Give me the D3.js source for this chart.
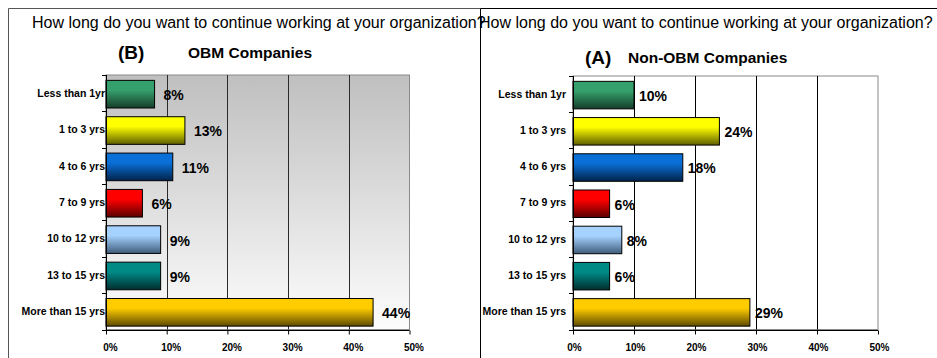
<!DOCTYPE html>
<html>
<head>
<meta charset="utf-8">
<script src="https://cdn.jsdelivr.net/npm/d3@7"></script>
<style>
  html, body { margin: 0; padding: 0; background: #fff; }
  svg { display: block; font-family: Arial, "Liberation Sans", sans-serif; }
</style>
</head>
<body>
<svg id="chart" width="937" height="358"></svg>
<script>
// Survey answers: tenure the respondent intends to stay
const categories = ["Less than 1yr", "1 to 3 yrs", "4 to 6 yrs", "7 to 9 yrs",
                    "10 to 12 yrs", "13 to 15 yrs", "More than 15 yrs"];
const obmValues    = [8, 13, 11, 6, 9, 9, 44];   // (B) OBM companies, %
const nonObmValues = [10, 24, 18, 6, 8, 6, 29];  // (A) Non-OBM companies, %
const tickValues   = [0, 10, 20, 30, 40, 50];
const question     = "How long do you want to continue working at your organization?";

// Bar fill per category: [top colour, bottom colour]
const barColors = [
  ["#35a06c", "#163d2a"],
  ["#ffff00", "#5e5e00"],
  ["#0a6fd6", "#00234a"],
  ["#ff0000", "#5a0000"],
  ["#a6d2ff", "#3f5c7a"],
  ["#008a86", "#002e2e"],
  ["#ffcc00", "#5e4a00"]
];

const svg = d3.select("#chart");
const defs = svg.append("defs");

barColors.forEach((c, i) => {
  const g = defs.append("linearGradient").attr("id", "bar" + i)
    .attr("x1", 0).attr("y1", 0).attr("x2", 0).attr("y2", 1);
  g.append("stop").attr("offset", "0%").attr("stop-color", c[0]);
  g.append("stop").attr("offset", "35%").attr("stop-color", c[0]);
  g.append("stop").attr("offset", "100%").attr("stop-color", c[1]);
});

const bgGrad = defs.append("linearGradient").attr("id", "plotBg")
  .attr("x1", 0).attr("y1", 0).attr("x2", 0).attr("y2", 1);
bgGrad.append("stop").attr("offset", "0%").attr("stop-color", "#bfbfbf");
bgGrad.append("stop").attr("offset", "100%").attr("stop-color", "#fdfdfd");

const panels = [
  {
    values: obmValues, letter: "(B)", name: "OBM Companies",
    frameX: 8.5, titleX: 32, letterX: 118, nameX: 188, subBase: 59,
    plot: { x0: 106, x1: 409.5, y0: 75, y1: 329.5 },
    background: "url(#plotBg)", grid: "#2a2a2a",
    labelGap: 9, catGap: 1, tickDx: 4
  },
  {
    values: nonObmValues, letter: "(A)", name: "Non-OBM Companies",
    frameX: 480.5, titleX: 479, letterX: 585, nameX: 628, subBase: 64,
    plot: { x0: 573, x1: 878, y0: 76, y1: 329.5 },
    background: "#ffffff", grid: "#000000",
    labelGap: 5, catGap: 7, tickDx: 1
  }
];

panels.forEach(p => {
  const g = svg.append("g");

  // panel frame (open at the bottom edge of the page)
  g.append("path")
    .attr("d", `M${p.frameX},370 V8.5 H${p.frameX === 8.5 ? 480.5 : 940}`)
    .attr("fill", "none")
    .attr("stroke", p.frameX === 8.5 ? "#555" : "#000")
    .attr("stroke-width", 1);

  g.append("text")
    .attr("x", p.titleX).attr("y", 28)
    .attr("font-size", 16).attr("fill", "#000")
    .text(question);

  g.append("text")
    .attr("x", p.letterX).attr("y", p.subBase)
    .attr("font-size", 19).attr("font-weight", "bold")
    .text(p.letter);
  g.append("text")
    .attr("x", p.nameX).attr("y", p.subBase - 1)
    .attr("font-size", 15.5).attr("font-weight", "bold")
    .text(p.name);

  const x = d3.scaleLinear().domain([0, 50]).range([p.plot.x0, p.plot.x1]);
  const y = d3.scaleBand().domain(categories)
    .range([p.plot.y0, p.plot.y1])
    .paddingInner(0.24).paddingOuter(0.12);

  // plot area
  g.append("rect")
    .attr("x", p.plot.x0).attr("y", p.plot.y0)
    .attr("width", p.plot.x1 - p.plot.x0).attr("height", p.plot.y1 - p.plot.y0)
    .attr("fill", p.background)
    .attr("stroke", "#8a8a8a").attr("stroke-width", 1);

  // vertical gridlines
  g.selectAll(".grid").data(tickValues.slice(1, -1)).join("line")
    .attr("x1", d => Math.round(x(d)) + 0.5).attr("x2", d => Math.round(x(d)) + 0.5)
    .attr("y1", p.plot.y0).attr("y2", p.plot.y1)
    .attr("stroke", p.grid).attr("stroke-width", 1);

  // bars
  g.selectAll(".bar").data(p.values).join("rect")
    .attr("x", x(0))
    .attr("y", (d, i) => y(categories[i]) + 1)
    .attr("width", d => x(d) - x(0))
    .attr("height", y.bandwidth())
    .attr("fill", (d, i) => `url(#bar${i})`)
    .attr("stroke", "#000").attr("stroke-width", 1);

  // value labels
  g.selectAll(".val").data(p.values).join("text")
    .attr("x", d => x(d) + p.labelGap)
    .attr("y", (d, i) => y(categories[i]) + y.bandwidth() / 2 + 2)
    .attr("dy", "0.35em")
    .attr("font-size", 14).attr("font-weight", "bold")
    .text(d => d + "%");

  // y axis: line with ticks at band boundaries
  const yAxis = g.append("g");
  yAxis.append("line")
    .attr("x1", p.plot.x0 + 0.5).attr("x2", p.plot.x0 + 0.5)
    .attr("y1", p.plot.y0).attr("y2", p.plot.y1 + 4)
    .attr("stroke", "#000");
  const bounds = d3.range(categories.length + 1)
    .map(i => p.plot.y0 + i * y.step());
  yAxis.selectAll("line.tk").data(bounds).join("line").attr("class", "tk")
    .attr("x1", p.plot.x0 - 4).attr("x2", p.plot.x0)
    .attr("y1", d => Math.round(d) + 0.5).attr("y2", d => Math.round(d) + 0.5)
    .attr("stroke", "#000");
  yAxis.selectAll("text").data(categories).join("text")
    .attr("x", p.plot.x0 - p.catGap)
    .attr("y", d => y(d) + y.bandwidth() / 2)
    .attr("dy", "0.35em")
    .attr("text-anchor", "end")
    .attr("font-size", 10.5).attr("font-weight", "bold")
    .text(d => d);

  // x axis
  const xAxis = g.append("g")
    .attr("transform", `translate(0,${Math.round(p.plot.y1) + 0.5})`)
    .call(d3.axisBottom(x).tickValues(tickValues)
      .tickFormat(d => d + "%").tickSize(4).tickPadding(9));
  xAxis.select(".domain").attr("stroke", "#000").attr("d",
    `M${p.plot.x0},0H${p.plot.x1}`);
  xAxis.selectAll("line").attr("stroke", "#000");
  xAxis.selectAll("text")
    .attr("dx", p.tickDx)
    .attr("font-family", "Arial, 'Liberation Sans', sans-serif")
    .attr("font-size", 10).attr("font-weight", "bold").attr("fill", "#000");
});
</script>
</body>
</html>
